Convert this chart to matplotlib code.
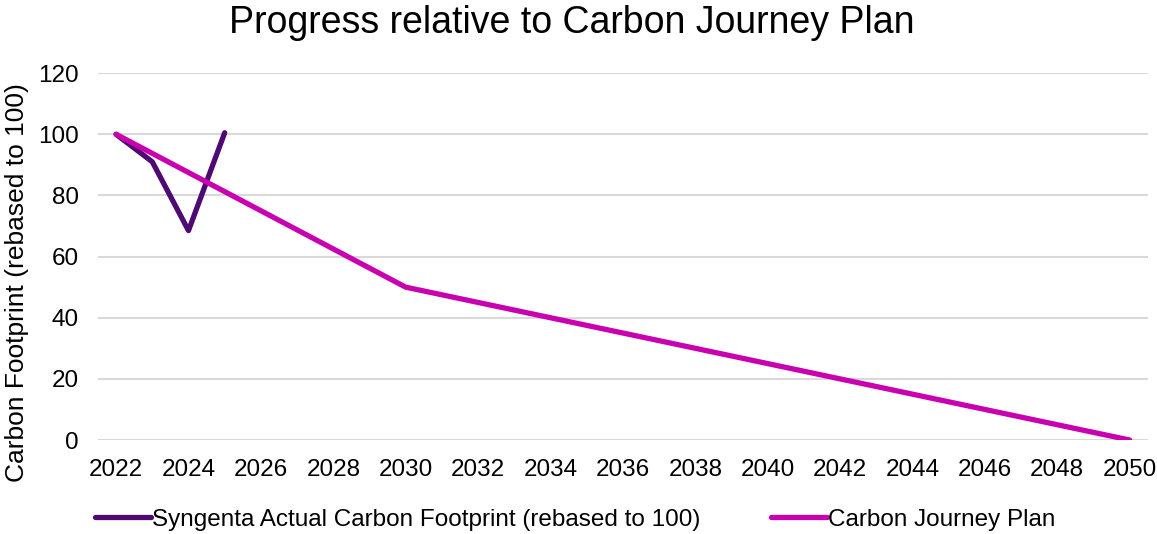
import numpy as np
import matplotlib.pyplot as plt

plt.rcParams['font.family'] = ['Liberation Sans', 'DejaVu Sans']

# data
actual_years = [2022, 2023, 2024, 2025]
actual_values = [100, 91, 68.5, 100.5]
plan_years = [2022, 2030, 2050]
plan_values = [100, 50, 0]
x_ticks = np.arange(2022, 2051, 2)
y_ticks = [0, 20, 40, 60, 80, 100, 120]

fig = plt.figure(figsize=(11.57, 5.34), dpi=100)
ax = fig.add_axes([0.0847, 0.176, 0.9073, 0.687])

ax.plot(actual_years, actual_values, color='#4E0A72', linewidth=3.8,
        solid_capstyle='round', solid_joinstyle='round',
        label='Syngenta Actual Carbon Footprint (rebased to 100)')
ax.plot(plan_years, plan_values, color='#C800B0', linewidth=3.8,
        solid_capstyle='round', solid_joinstyle='round',
        label='Carbon Journey Plan')

ax.set_xlim(2021.5, 2050.5)
ax.set_ylim(0, 120)
ax.set_xticks(x_ticks)
ax.set_yticks(y_ticks)
ax.tick_params(length=0, labelsize=17.5, pad=14)
ax.tick_params(axis='x', pad=14)
ax.grid(axis='y', color='#D9D9D9', linewidth=1.5)
ax.set_axisbelow(True)
for s in ax.spines.values():
    s.set_visible(False)

ax.set_ylabel('Carbon Footprint (rebased to 100)', fontsize=19)
ax.yaxis.set_label_coords(-0.066, 0.43)
fig.suptitle('Progress relative to Carbon Journey Plan', fontsize=27,
             x=0.494, y=0.99)

fig.legend(loc='lower center', bbox_to_anchor=(0.497, -0.035), ncol=2,
           frameon=False, fontsize=17.5, handlelength=2.3, handletextpad=0.05,
           columnspacing=2.9)

fig.savefig('out.png', dpi=100)
